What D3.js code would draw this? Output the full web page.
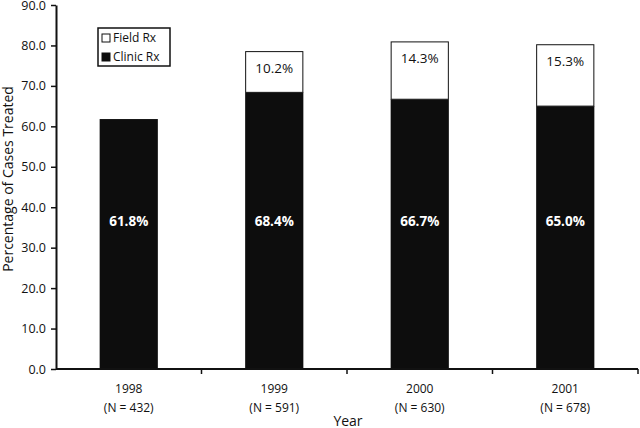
<!DOCTYPE html>
<html>
<head>
<meta charset="utf-8">
<script src="https://cdn.jsdelivr.net/npm/d3@7"></script>
<style>
  body { margin: 0; background: #fff; }
  svg text { font-family: "Open Sans", "Noto Sans", sans-serif; }
</style>
</head>
<body>
<svg id="chart" width="640" height="428"></svg>
<script>
// chart data
var years    = ["1998", "1999", "2000", "2001"];
var nCases   = ["(N = 432)", "(N = 591)", "(N = 630)", "(N = 678)"];
var clinicRx = [61.8, 68.4, 66.7, 65.0];
var fieldRx  = [0, 10.2, 14.3, 15.3];
var yTicks   = [0, 10, 20, 30, 40, 50, 60, 70, 80, 90];

// plot area (window.top is reserved, so use other names)
var plotLeft = 56, plotRight = 638, plotTop = 5, plotBottom = 369;

var svg = d3.select("#chart");

var xScale = d3.scaleBand()
    .domain(years)
    .range([plotLeft, plotRight])
    .paddingInner(0.6)
    .paddingOuter(0.3);

var yScale = d3.scaleLinear()
    .domain([0, 90])
    .range([plotBottom, plotTop]);

// bars: clinic (black) then field (white) on top
var g = svg.append("g");

g.selectAll("rect.clinic")
    .data(years)
    .enter().append("rect")
    .attr("class", "clinic")
    .attr("x", function(d) { return xScale(d); })
    .attr("width", xScale.bandwidth())
    .attr("y", function(d, i) { return yScale(clinicRx[i]); })
    .attr("height", function(d, i) { return plotBottom - yScale(clinicRx[i]); })
    .attr("fill", "#0d0d0d");

var withField = years.filter(function(d, i) { return fieldRx[i] > 0; });

g.selectAll("rect.field")
    .data(withField)
    .enter().append("rect")
    .attr("class", "field")
    .attr("x", function(d) { return xScale(d) + 0.5; })
    .attr("width", xScale.bandwidth() - 1)
    .attr("y", function(d) {
        var i = years.indexOf(d);
        return yScale(clinicRx[i] + fieldRx[i]) + 0.5;
    })
    .attr("height", function(d) {
        var i = years.indexOf(d);
        return yScale(clinicRx[i]) - yScale(clinicRx[i] + fieldRx[i]) - 0.5;
    })
    .attr("fill", "#fff")
    .attr("stroke", "#111")
    .attr("stroke-width", 1);

// value labels
g.selectAll("text.clinicLbl")
    .data(years)
    .enter().append("text")
    .attr("x", function(d) { return xScale(d) + xScale.bandwidth() / 2; })
    .attr("y", yScale(36.6))
    .attr("text-anchor", "middle")
    .attr("dy", "0.35em")
    .style("font-size", "13.5px")
    .style("font-weight", "bold")
    .attr("fill", "#fff")
    .text(function(d, i) { return clinicRx[i].toFixed(1) + "%"; });

g.selectAll("text.fieldLbl")
    .data(withField)
    .enter().append("text")
    .attr("x", function(d) { return xScale(d) + xScale.bandwidth() / 2; })
    .attr("y", function(d) {
        var i = years.indexOf(d);
        return yScale(clinicRx[i] + fieldRx[i]) + 17;
    })
    .attr("text-anchor", "middle")
    .attr("dy", "0.35em")
    .style("font-size", "13.5px")
    .attr("fill", "#111")
    .text(function(d) { return fieldRx[years.indexOf(d)].toFixed(1) + "%"; });

// y axis
var yAxis = d3.axisLeft(yScale)
    .tickValues(yTicks)
    .tickFormat(d3.format(".1f"))
    .tickSizeInner(5)
    .tickSizeOuter(0);

var ya = svg.append("g")
    .attr("transform", "translate(" + plotLeft + ",0)")
    .call(yAxis);
ya.select(".domain").attr("stroke", "#111").attr("stroke-width", 2);
ya.selectAll(".tick line").attr("stroke", "#111").attr("stroke-width", 1.5);
ya.selectAll(".tick text")
    .attr("x", -10)
    .style("font-size", "12.5px")
    .attr("fill", "#111");

// x axis: ticks at category boundaries
var xa = svg.append("g")
    .attr("transform", "translate(0," + plotBottom + ")");
xa.append("line")
    .attr("x1", plotLeft).attr("x2", plotRight)
    .attr("stroke", "#111").attr("stroke-width", 2);

var gap = (xScale.step() - xScale.bandwidth()) / 2;
var boundaries = years.map(function(d) { return xScale(d) + xScale.bandwidth() + gap; });
xa.selectAll("line.tick")
    .data(boundaries)
    .enter().append("line")
    .attr("class", "tick")
    .attr("x1", function(d) { return d; })
    .attr("x2", function(d) { return d; })
    .attr("y1", 0).attr("y2", 5)
    .attr("stroke", "#111").attr("stroke-width", 1.5);

xa.selectAll("text.year")
    .data(years)
    .enter().append("text")
    .attr("x", function(d) { return xScale(d) + xScale.bandwidth() / 2; })
    .attr("y", 24)
    .attr("text-anchor", "middle")
    .style("font-size", "12px")
    .attr("fill", "#111")
    .text(function(d) { return d; });

xa.selectAll("text.n")
    .data(nCases)
    .enter().append("text")
    .attr("x", function(d, i) { return xScale(years[i]) + xScale.bandwidth() / 2; })
    .attr("y", 43)
    .attr("text-anchor", "middle")
    .style("font-size", "12px")
    .attr("fill", "#111")
    .text(function(d) { return d; });

// axis titles
svg.append("text")
    .attr("x", 348)
    .attr("y", 426)
    .attr("text-anchor", "middle")
    .style("font-size", "14px")
    .attr("fill", "#111")
    .text("Year");

svg.append("text")
    .attr("transform", "translate(13,179) rotate(-90)")
    .attr("text-anchor", "middle")
    .style("font-size", "14px")
    .attr("fill", "#111")
    .text("Percentage of Cases Treated");

// legend
var legend = svg.append("g").attr("transform", "translate(98,28)");
legend.append("rect")
    .attr("width", 72).attr("height", 38)
    .attr("fill", "#fff").attr("stroke", "#111").attr("stroke-width", 1.5);

var legendItems = [
    { label: "Field Rx", fill: "#fff" },
    { label: "Clinic Rx", fill: "#0d0d0d" }
];
legendItems.forEach(function(item, i) {
    legend.append("rect")
        .attr("x", 4).attr("y", 6 + i * 19)
        .attr("width", 8).attr("height", 8)
        .attr("fill", item.fill)
        .attr("stroke", "#111").attr("stroke-width", 1);
    legend.append("text")
        .attr("x", 15).attr("y", 10 + i * 19)
        .attr("dy", "0.35em")
        .style("font-size", "12px")
        .attr("fill", "#111")
        .text(item.label);
});
</script>
</body>
</html>
